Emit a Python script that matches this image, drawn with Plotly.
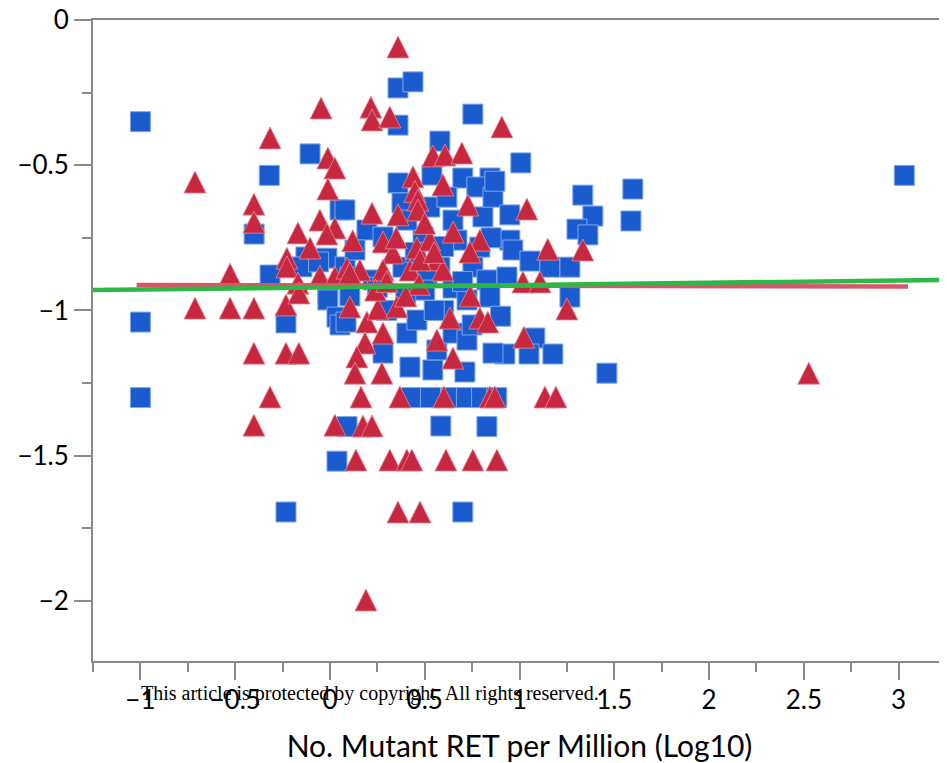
import plotly.graph_objects as go

# ---- data ----
sq_x = [-1.00, -1.00, -1.00, 3.03, -0.32, -0.40, -0.316, -0.232, -0.232, -0.105,
        0.037, 0.09, 0.359, 0.438, 0.359, 0.754, 0.58, 1.007, 1.334, 1.598,
        1.588, 1.387, 1.303, 1.361, 1.461, 0.701, 0.585, 0.828,
        -0.127, -0.148, -0.016, -0.06, 0.08, 0.053, -0.011, -0.011, 0.037, 0.053,
        0.359, 0.38, 0.538, 0.701, 0.844, 0.775, 0.079, 0.195, 0.132, 0.105,
        0.649, 0.807, 0.67, 0.791, 0.754, 0.58, 0.491, 0.527, 0.28, 0.828, 0.649,
        0.406, 0.617, 0.86, 0.385, 0.227, 0.512,
        0.87, 0.949, 0.949, 0.965, 1.055, 1.16, 1.266, 0.934, 1.266, 1.081,
        0.923, 1.05, 1.176,
        0.085, 0.28, 0.406, 0.422, 0.543, 0.712, 0.564, 0.649, 0.723, 0.459,
        0.723, 0.844, 0.86,
        0.43, 0.53, 0.64, 0.72, 0.80, 0.88,
        0.105, 0.30, 0.50, 0.60, 0.90, 0.75,
        0.45, 0.60, 0.40, 0.55, 0.25, 0.85, 0.70]
sq_y = [-0.35, -1.04, -1.30, -0.535, -0.535, -0.737, -0.878, -1.043, -1.694, -0.461,
        -1.519, -1.40, -0.234, -0.213, -0.362, -0.324, -0.417, -0.492, -0.603, -0.582,
        -0.692, -0.675, -0.72, -0.74, -1.216, -1.694, -1.398, -1.40,
        -0.816, -0.85, -0.82, -0.833, -0.85, -0.654, -0.94, -0.964, -1.023, -1.05,
        -0.561, -0.63, -0.534, -0.544, -0.544, -0.575, -0.654, -0.723, -0.792, -0.885,
        -0.689, -0.678, -0.758, -0.782, -0.851, -0.851, -0.747, -0.644, -0.747, -0.895, -0.923,
        -0.689, -0.61, -0.61, -0.851, -0.895, -0.885,
        -0.555, -0.671, -0.758, -0.792, -0.83, -0.851, -0.851, -0.885, -0.954, -1.095,
        -1.15, -1.15, -1.15,
        -1.04, -1.147, -1.078, -1.195, -1.205, -1.212, -1.136, -1.078, -1.102, -1.033,
        -0.964, -0.954, -1.147,
        -1.30, -1.30, -1.30, -1.30, -1.30, -1.30,
        -0.95, -1.00, -0.93, -1.00, -1.02, -1.05,
        -0.80, -0.78, -0.95, -1.00, -0.92, -0.75, -0.90]

tri_x = [0.359, -0.047, 0.216, 0.222, 0.316, 0.907, -0.316, -0.712, -0.401, -0.401,
         -0.527, -0.011, 0.026, -0.011, -0.053, 0.026, -0.016, -0.169, -0.105, -0.227,
         -0.227, -0.169, -0.053, 0.026,
         0.543, 0.607, 0.696, 0.438, 0.448, 0.464, 0.596, 0.222, 0.359, 0.728,
         0.464, 0.28, 0.332, 0.459, 0.527, 0.564, 0.791, 0.158, 0.09, 0.28,
         0.422, 0.475, 0.596, 0.738,
         1.039, 1.149, 1.334, 1.018, 1.108, 1.25,
         -0.712, -0.527, -0.401, -0.232, -0.164, -0.401, -0.232, -0.164, -0.316, -0.401, 0.026,
         0.164, 0.369, 0.601, 0.844, 0.87, 0.174, 0.222,
         0.137, 0.316, 0.406, 0.432, 0.612, 0.754, 0.881, 0.359, 0.475,
         0.105, 0.195, 0.253, 0.353, 0.185, 0.28, 0.142, 0.132, 0.274, 0.564,
         0.633, 0.791, 0.833, 0.649,
         1.023, 1.134, 1.192, 2.526, 0.19,
         0.24, 0.47, 0.74, 0.40, 0.30, 0.105,
         0.50, 0.55, 0.35, 0.12, 0.65]
tri_y = [-0.093, -0.303, -0.30, -0.344, -0.334, -0.368, -0.406, -0.558, -0.634, -0.696,
         -0.875, -0.475, -0.51, -0.582, -0.689, -0.716, -0.737, -0.733, -0.785, -0.82,
         -0.85, -0.906, -0.882, -0.885,
         -0.468, -0.465, -0.458, -0.54, -0.59, -0.62, -0.568, -0.665, -0.671, -0.637,
         -0.654, -0.764, -0.802, -0.785, -0.758, -0.826, -0.758, -0.861, -0.854, -0.861,
         -0.861, -0.826, -0.861, -0.799,
         -0.651, -0.789, -0.792, -0.902, -0.902, -0.995,
         -0.992, -0.992, -0.992, -0.981, -0.94, -1.147, -1.147, -1.147, -1.298, -1.395, -1.395,
         -1.298, -1.298, -1.298, -1.298, -1.298, -1.398, -1.398,
         -1.515, -1.515, -1.515, -1.515, -1.515, -1.515, -1.515, -1.694, -1.694,
         -0.988, -1.04, -0.995, -0.988, -1.112, -1.078, -1.16, -1.216, -1.216, -1.102,
         -1.026, -1.026, -1.04, -1.164,
         -1.092, -1.298, -1.298, -1.216, -1.997,
         -0.93, -0.91, -0.95, -0.95, -0.90, -0.871,
         -0.70, -0.80, -0.75, -0.76, -0.73]

fit_red_x = [-1.02, 3.05]
fit_red_y = [-0.912, -0.918]
fit_green_x = [-1.25, 3.25]
fit_green_y = [-0.930, -0.895]

x_title = "No. Mutant RET per Million (Log10)"
watermark = "This article is protected by copyright. All rights reserved."

BLUE = "#1a5bd0"
RED = "#c8283f"
AXIS = "#8a8a8a"
TRI = 22

fig = go.Figure()
fig.add_trace(go.Scatter(
    x=sq_x, y=sq_y, mode="markers",
    marker=dict(symbol="square", size=20, color=BLUE,
                line=dict(color="#7fa6ec", width=1)),
    hoverinfo="skip", showlegend=False))
fig.add_trace(go.Scatter(
    x=tri_x, y=tri_y, mode="markers",
    marker=dict(symbol="arrow-down", angle=180, standoff=TRI / 2, size=TRI,
                color=RED, line=dict(color="#e58a98", width=0.8)),
    hoverinfo="skip", showlegend=False))
fig.add_trace(go.Scatter(
    x=fit_red_x, y=fit_red_y, mode="lines",
    line=dict(color="#d9566a", width=4.5), hoverinfo="skip", showlegend=False))
fig.add_trace(go.Scatter(
    x=fit_green_x, y=fit_green_y, mode="lines",
    line=dict(color="#2cb844", width=4.5), hoverinfo="skip", showlegend=False))

axis_common = dict(
    showline=True, linecolor=AXIS, linewidth=2, mirror=True,
    ticks="outside", ticklen=17, tickwidth=2, tickcolor=AXIS,
    showgrid=False, zeroline=False, automargin=False,
    ticklabeloverflow="allow",
    tickfont=dict(family="Lato", size=26, color="black"),
)

# page body has an 8px margin: figure sized/offset so the plot lands where the reference has it
fig.update_layout(
    width=939, height=755,
    margin=dict(l=85, r=1, t=12, b=102),
    plot_bgcolor="white", paper_bgcolor="white",
    xaxis=dict(range=[-1.25, 3.25], tickmode="linear", tick0=0, dtick=0.5,
               minor=dict(ticks="outside", ticklen=9, tickwidth=2, tickcolor=AXIS, dtick=0.25, tick0=0),
               title=dict(text=x_title, font=dict(family="Lato", size=30, color="black"), standoff=28),
               ticklabelstandoff=-2,
               **axis_common),
    yaxis=dict(range=[-2.207, 0], tickmode="linear", tick0=0, dtick=0.5,
               minor=dict(ticks="outside", ticklen=9, tickwidth=2, tickcolor=AXIS, dtick=0.25, tick0=0),
               ticklabelstandoff=0,
               **axis_common),
    annotations=[dict(text=watermark, xref="paper", yref="paper", x=0.325, y=-0.05,
                      xanchor="center", yanchor="middle", showarrow=False,
                      font=dict(family="Liberation Serif", size=20, color="black"))],
)

fig.write_html("out.html")
